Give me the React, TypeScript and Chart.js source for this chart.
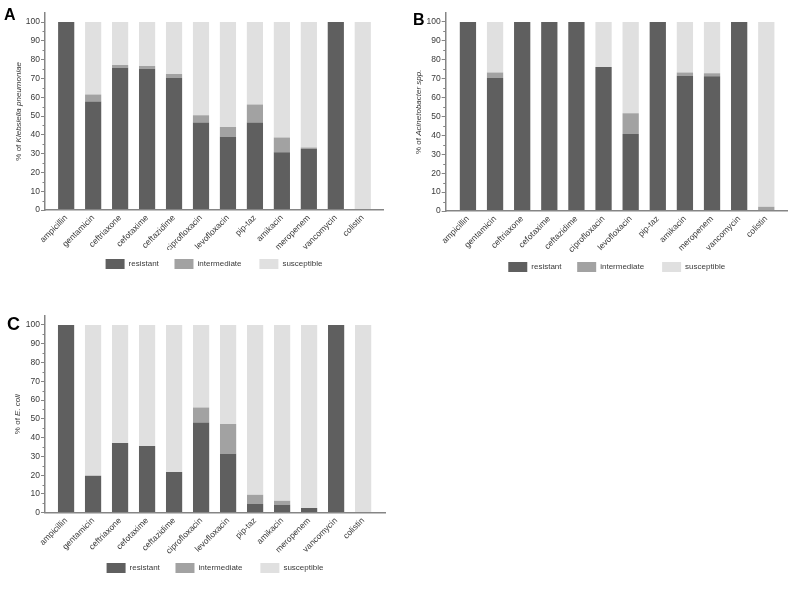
import React, { useEffect, useRef } from "react";
import { Chart, registerables } from "chart.js";

Chart.register(...registerables);

// ---------- data ----------
const antibiotics = [
  "ampicillin", "gentamicin", "ceftriaxone", "cefotaxime", "ceftazidime", "ciprofloxacin",
  "levofloxacin", "pip-taz", "amikacin", "meropenem", "vancomycin", "colistin",
];
const seriesNames = ["resistant", "intermediate", "susceptible"];

const klebResistant = [100, 57.7, 75.7, 75.1, 70.2, 46.5, 38.9, 46.5, 30.7, 32.5, 100, 0];
const klebIntermediate = [0, 3.8, 1.4, 1.5, 2.1, 3.9, 5.3, 9.6, 7.8, 0.7, 0, 0];
const klebSusceptible = [0, 38.5, 22.9, 23.4, 27.7, 49.6, 55.8, 43.9, 61.5, 66.8, 0, 100];

const acinResistant = [100, 70.4, 100, 100, 100, 76.2, 40.7, 100, 71.6, 71.3, 100, 0];
const acinIntermediate = [0, 2.8, 0, 0, 0, 0, 11.0, 0, 1.6, 1.5, 0, 2.3];
const acinSusceptible = [0, 26.8, 0, 0, 0, 23.8, 48.3, 0, 26.8, 27.2, 0, 97.7];

const ecoliResistant = [100, 19.7, 37.1, 35.5, 21.7, 48.0, 31.4, 4.7, 4.3, 2.5, 100, 0];
const ecoliIntermediate = [0, 0, 0, 0, 0, 8.0, 15.8, 4.9, 2.1, 0, 0, 0];
const ecoliSusceptible = [0, 80.3, 62.9, 64.5, 78.3, 44.0, 52.8, 90.4, 93.6, 97.5, 0, 100];

const yTickValues = [0, 10, 20, 30, 40, 50, 60, 70, 80, 90, 100];
const yMinorTickValues = [5, 15, 25, 35, 45, 55, 65, 75, 85, 95];

// ---------- styles ----------
const FONT = "'Liberation Sans', Arial, sans-serif";
const COLORS = ["#5f5f5f", "#a2a2a2", "#e0e0e0"];
const AXIS_COLOR = "#858585";
const TEXT_COLOR = "#3a3a3a";
// extra trailing space after legend entries, to widen the gaps between items
const LEGEND_SPACERS = ["   ", "    ", ""];

type PanelProps = {
  letter: string;
  letterSize: number;
  letterX: number;
  letterY: number;
  species: string;
  resistant: number[];
  intermediate: number[];
  susceptible: number[];
  left: number;
  top: number;
  areaLeft: number;
  areaRight: number;
  areaTop: number;
  xAxisHeight: number;
  padBottom: number;
  titleX: number;
  xMin: number;
  xMax: number;
};

const decorPlugin = {
  id: "decor",
  afterDraw(chart: any, _args: any, opts: any) {
    const { ctx, chartArea, scales } = chart;
    const y = scales.y;
    ctx.save();
    // minor ticks
    ctx.strokeStyle = AXIS_COLOR;
    ctx.lineWidth = 1;
    for (const v of yMinorTickValues) {
      const py = Math.round(y.getPixelForValue(v)) + 0.5;
      ctx.beginPath();
      ctx.moveTo(chartArea.left - 2.5, py);
      ctx.lineTo(chartArea.left, py);
      ctx.stroke();
    }
    // y axis title with italic species
    const plain = "% of ";
    const fPlain = `8px ${FONT}`;
    const fItalic = `italic 8px ${FONT}`;
    ctx.font = fPlain;
    const w1 = ctx.measureText(plain).width;
    ctx.font = fItalic;
    const w2 = ctx.measureText(opts.species).width;
    const cy = (chartArea.top + chartArea.bottom) / 2;
    ctx.translate(opts.titleX, cy);
    ctx.rotate(-Math.PI / 2);
    ctx.fillStyle = TEXT_COLOR;
    ctx.textBaseline = "middle";
    ctx.textAlign = "left";
    const start = -(w1 + w2) / 2;
    ctx.font = fPlain;
    ctx.fillText(plain, start, 0);
    ctx.font = fItalic;
    ctx.fillText(opts.species, start + w1, 0);
    ctx.restore();
    // panel letter
    ctx.save();
    ctx.font = `bold ${opts.letterSize}px ${FONT}`;
    ctx.fillStyle = "#000";
    ctx.textBaseline = "alphabetic";
    ctx.textAlign = "left";
    ctx.fillText(opts.letter, opts.letterX, opts.letterY);
    ctx.restore();
  },
};

function Panel(p: PanelProps) {
  const ref = useRef<HTMLCanvasElement | null>(null);
  useEffect(() => {
    if (!ref.current) return;
    const values = [p.resistant, p.intermediate, p.susceptible];
    const chart = new Chart(ref.current, {
      type: "bar",
      data: {
        datasets: seriesNames.map((name, k) => ({
          label: name,
          data: values[k].map((v, i) => ({ x: i, y: v })),
          backgroundColor: COLORS[k],
          borderWidth: 0,
          categoryPercentage: 1,
          barPercentage: 0.6,
        })),
      },
      options: {
        animation: false,
        responsive: false,
        devicePixelRatio: 1,
        layout: {
          padding: {
            left: 0,
            right: 400 - p.areaRight,
            top: p.areaTop,
            bottom: p.padBottom,
          },
        },
        scales: {
          x: {
            type: "linear",
            stacked: true,
            offset: false,
            min: p.xMin,
            max: p.xMax,
            afterBuildTicks: (axis: any) => {
              axis.ticks = antibiotics.map((_, i) => ({ value: i }));
            },
            afterFit: (axis: any) => {
              axis.height = p.xAxisHeight;
            },
            grid: { display: false, drawTicks: false, offset: false },
            border: { display: true, color: AXIS_COLOR, width: 1.5, z: 1 },
            ticks: {
              autoSkip: false,
              maxRotation: 45,
              minRotation: 45,
              padding: 3,
              color: TEXT_COLOR,
              font: { family: FONT, size: 8.5 },
              callback: (value: any) => antibiotics[value as number] ?? "",
            },
          },
          y: {
            type: "linear",
            stacked: true,
            min: 0,
            max: 105,
            afterBuildTicks: (axis: any) => {
              axis.ticks = yTickValues.map((v) => ({ value: v }));
            },
            afterFit: (axis: any) => {
              axis.width = p.areaLeft;
            },
            grid: {
              display: true,
              drawOnChartArea: false,
              drawTicks: true,
              tickLength: 4,
              tickColor: AXIS_COLOR,
              tickWidth: 1,
            },
            border: { display: true, color: AXIS_COLOR, width: 1.5, z: 1 },
            ticks: {
              padding: 1,
              color: TEXT_COLOR,
              font: { family: FONT, size: 8.5 },
            },
          },
        },
        plugins: {
          legend: {
            display: true,
            position: "bottom",
            fullSize: false,
            labels: {
              boxWidth: 19,
              boxHeight: 10,
              padding: 9,
              color: TEXT_COLOR,
              font: { family: FONT, size: 8 },
              generateLabels: (c: any) =>
                Chart.defaults.plugins.legend.labels
                  .generateLabels(c)
                  .map((item: any, i: number) => ({ ...item, text: item.text + LEGEND_SPACERS[i] })),
            },
          },
          tooltip: { enabled: false },
          decor: {
            species: p.species,
            titleX: p.titleX,
            letter: p.letter,
            letterSize: p.letterSize,
            letterX: p.letterX,
            letterY: p.letterY,
          },
        } as any,
      },
      plugins: [decorPlugin],
    } as any);
    return () => chart.destroy();
  }, []);
  return (
    <canvas
      ref={ref}
      width={400}
      height={296}
      style={{ position: "absolute", left: p.left, top: p.top, width: 400, height: 296 }}
    />
  );
}

export default function App() {
  return (
    <div style={{ position: "absolute", left: 0, top: 0, width: 800, height: 592, background: "#fff" }}>
      <Panel
        letter="A" letterSize={16} letterX={4} letterY={20}
        species="Klebsiella pneumoniae"
        resistant={klebResistant} intermediate={klebIntermediate} susceptible={klebSusceptible}
        left={0} top={0}
        areaLeft={45} areaRight={383} areaTop={12.6}
        xAxisHeight={40} padBottom={17} titleX={18.5}
        xMin={-0.786} xMax={11.75}
      />
      <Panel
        letter="B" letterSize={16} letterX={13} letterY={25}
        species="Acinetobacter spp."
        resistant={acinResistant} intermediate={acinIntermediate} susceptible={acinSusceptible}
        left={400} top={0}
        areaLeft={45.7} areaRight={387.7} areaTop={12.5}
        xAxisHeight={42} padBottom={14} titleX={18.5}
        xMin={-0.82} xMax={11.79}
      />
      <Panel
        letter="C" letterSize={18} letterX={7} letterY={34}
        species="E. coli"
        resistant={ecoliResistant} intermediate={ecoliIntermediate} susceptible={ecoliSusceptible}
        left={0} top={296}
        areaLeft={45} areaRight={385} areaTop={19.6}
        xAxisHeight={41.3} padBottom={9} titleX={17.5}
        xMin={-0.78} xMax={11.81}
      />
    </div>
  );
}
